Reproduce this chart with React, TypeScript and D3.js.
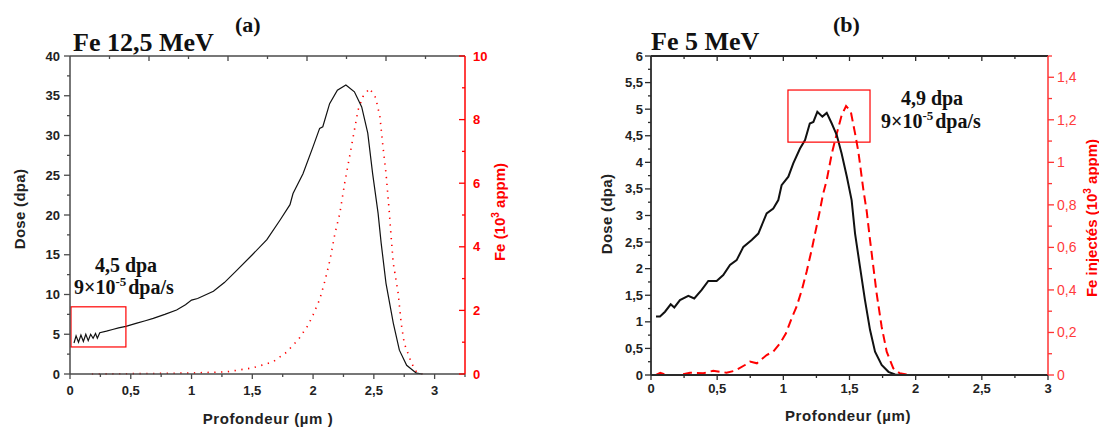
import React from "react";
import * as d3 from "d3";

// ---------- DATA ----------
// Panel (a) Fe 12,5 MeV : dose (dpa) vs depth (µm)
const doseA: [number, number][] = [
  [0.033, 3.9], [0.05, 4.8], [0.07, 4.0], [0.09, 4.9], [0.11, 4.1], [0.13, 5.0], [0.15, 4.2],
  [0.17, 5.0], [0.19, 4.5], [0.21, 5.1], [0.225, 4.5], [0.245, 5.2], [0.3, 5.4], [0.35, 5.6],
  [0.4, 5.8], [0.46, 6.0], [0.55, 6.4], [0.62, 6.7], [0.685, 7.0], [0.78, 7.5], [0.877, 8.05],
  [0.95, 8.7], [1.0, 9.3], [1.05, 9.5], [1.18, 10.4], [1.27, 11.5], [1.37, 13.0], [1.5, 15.0],
  [1.62, 16.9], [1.73, 19.4], [1.81, 21.3], [1.835, 22.7], [1.917, 25.2], [2.0, 28.6],
  [2.054, 30.9], [2.08, 31.1], [2.136, 34.0], [2.2, 35.7], [2.27, 36.35], [2.34, 35.5],
  [2.4, 33.6], [2.45, 30.3], [2.49, 25.2], [2.535, 20.2], [2.56, 16.5], [2.6, 11.4],
  [2.66, 6.4], [2.71, 3.0], [2.77, 1.1], [2.85, 0.1], [2.9, 0],
];
// Panel (a) Fe concentration (10^3 appm)
const feA: [number, number][] = [
  [0.18, 0], [0.5, 0.01], [1.0, 0.03], [1.29, 0.07], [1.5, 0.19], [1.67, 0.38], [1.78, 0.68],
  [1.88, 1.09], [1.96, 1.54], [2.0, 1.86], [2.055, 2.35], [2.1, 2.96], [2.14, 3.6], [2.18, 4.42],
  [2.22, 5.05], [2.26, 6.0], [2.3, 6.83], [2.33, 7.46], [2.37, 8.3], [2.41, 8.72], [2.465, 8.98],
  [2.515, 8.69], [2.55, 8.09], [2.575, 7.15], [2.6, 6.31], [2.625, 5.2], [2.64, 4.42],
  [2.66, 3.48], [2.7, 2.54], [2.725, 1.59], [2.75, 0.97], [2.81, 0.34], [2.85, 0.07], [2.9, 0],
];
// Panel (b) Fe 5 MeV : dose (dpa)
const doseB: [number, number][] = [
  [0.038, 1.1], [0.068, 1.1], [0.106, 1.19], [0.149, 1.33], [0.176, 1.27], [0.219, 1.41],
  [0.282, 1.49], [0.327, 1.44], [0.383, 1.6], [0.433, 1.77], [0.496, 1.77], [0.546, 1.88],
  [0.597, 2.07], [0.647, 2.16], [0.698, 2.41], [0.761, 2.54], [0.811, 2.66], [0.874, 3.04],
  [0.924, 3.13], [0.962, 3.29], [0.987, 3.57], [1.038, 3.73], [1.075, 3.98], [1.126, 4.26],
  [1.164, 4.42], [1.2, 4.73], [1.227, 4.76], [1.257, 4.95], [1.295, 4.86], [1.328, 4.93],
  [1.366, 4.73], [1.404, 4.51], [1.44, 4.17], [1.48, 3.73], [1.516, 3.29], [1.542, 2.66],
  [1.579, 2.04], [1.617, 1.41], [1.655, 0.85], [1.693, 0.44], [1.743, 0.19], [1.794, 0.06],
  [1.844, 0.01], [1.9, 0], [3.0, 0],
];
// Panel (b) Fe injectés (10^3 appm)
const feB: [number, number][] = [
  [0.038, 0], [0.07, 0.01], [0.12, 0], [0.22, 0], [0.295, 0.011], [0.395, 0.008], [0.47, 0.02],
  [0.57, 0.011], [0.635, 0.02], [0.71, 0.047], [0.748, 0.063], [0.8, 0.055], [0.874, 0.094],
  [0.924, 0.11], [0.975, 0.149], [1.02, 0.196], [1.063, 0.267], [1.1, 0.321], [1.14, 0.4],
  [1.176, 0.486], [1.214, 0.588], [1.24, 0.666], [1.272, 0.76], [1.3, 0.85], [1.328, 0.917],
  [1.366, 1.04], [1.404, 1.136], [1.44, 1.22], [1.474, 1.265], [1.51, 1.238], [1.542, 1.136],
  [1.567, 1.05], [1.605, 0.87], [1.63, 0.77], [1.655, 0.635], [1.68, 0.51], [1.705, 0.384],
  [1.743, 0.227], [1.781, 0.11], [1.831, 0.031], [1.88, 0.008], [1.95, 0], [3.0, 0],
];
// Highlight boxes [x0, x1, y0, y1] in data units (left axis)
const boxA = [0.0, 0.46, 3.4, 8.45];
const boxB = [1.035, 1.655, 4.38, 5.36];

const xTicksA = d3.range(0, 3.01, 0.5);
const xTicksB = d3.range(0, 3.01, 0.5);
const yTicksA = d3.range(0, 40.1, 5);
const yTicksB = d3.range(0, 6.01, 0.5);
const y2TicksA = d3.range(0, 10.1, 2);
const y2TicksB = d3.range(0, 1.41, 0.2);

const fmt = (v: number) => String(+v.toFixed(2)).replace(".", ",");

const SANS = "'Liberation Sans', Arial, sans-serif";
const SERIF = "'Liberation Serif', 'Times New Roman', serif";
const RED = "#ff0000";

export default function App() {
  const xA = d3.scaleLinear().domain([0, 3.25]).range([70, 465]);
  const yA = d3.scaleLinear().domain([0, 40]).range([374, 56]);
  const y2A = d3.scaleLinear().domain([0, 10]).range([374, 56]);
  const xB = d3.scaleLinear().domain([0, 3]).range([651, 1048]);
  const yB = d3.scaleLinear().domain([0, 6]).range([375, 56]);
  const y2B = d3.scaleLinear().domain([0, 1.5]).range([375, 56]);

  const line = (xs: any, ys: any) =>
    d3.line<[number, number]>().x((d) => xs(d[0])).y((d) => ys(d[1]));

  const axisCol = "#4a4a4a";
  const axisColB = "#2a2a2a";

  const aL = 70, aR = 465, aT = 56, aB = 374;
  const bL = 651, bR = 1048, bT = 56, bB = 375;

  const topA = d3.range(0, 10, 1).map((i) => ({ x: aL + ((aR - aL) * i) / 10, major: i % 2 === 0 }));
  const topB = d3.range(0, 3, 0.25).map((v) => ({ x: xB(v), major: Math.abs(v * 2 - Math.round(v * 2)) < 1e-6 }));

  return (
    <svg
      width={1099}
      height={428}
      style={{ position: "absolute", left: 0, top: 0, background: "#fff" }}
      fontFamily={SANS}
    >
      {/* ================= PANEL A ================= */}
      <g>
        <path d={line(xA, y2A)(feA) || ""} fill="none" stroke={RED} strokeWidth={1.6}
          strokeDasharray="1.3 5.5" />
        <path d={line(xA, yA)(doseA) || ""} fill="none" stroke="#111" strokeWidth={1.2} />
        <rect x={xA(boxA[0]) + 1} y={yA(boxA[3])} width={xA(boxA[1]) - xA(boxA[0]) - 1}
          height={yA(boxA[2]) - yA(boxA[3])} fill="none" stroke={RED} strokeWidth={1.2} />
        <line x1={aL} x2={aR} y1={aT} y2={aT} stroke={axisCol} strokeWidth={1.5} />
        <line x1={aL} x2={aR} y1={aB} y2={aB} stroke={axisCol} strokeWidth={1.5} />
        <line x1={aL} x2={aL} y1={aT} y2={aB} stroke={axisCol} strokeWidth={1.5} />
        <line x1={aR} x2={aR} y1={aT} y2={aB} stroke={RED} strokeWidth={1.5} />
        {topA.map((t, i) => i > 0 && (
          <line key={"ta" + i} x1={t.x} x2={t.x} y1={aT} y2={aT + (t.major ? 5 : 3)} stroke={axisCol} strokeWidth={1.3} />
        ))}
        {d3.range(0, 3.26, 0.25).map((v, i) => (
          <line key={"ba" + i} x1={xA(v)} x2={xA(v)} y1={aB} y2={aB + (i % 2 === 0 ? 5 : 3)} stroke={axisCol} strokeWidth={1.3} />
        ))}
        {xTicksA.map((v) => (
          <text key={"bl" + v} x={xA(v)} y={395} textAnchor="middle" fontSize={13} fontWeight="bold" fill="#222">{fmt(v)}</text>
        ))}
        {d3.range(0, 40.1, 2.5).map((v, i) => (
          <line key={"la" + i} x1={aL} x2={aL - (i % 2 === 0 ? 6 : 3)} y1={yA(v)} y2={yA(v)} stroke={axisCol} strokeWidth={1.3} />
        ))}
        {yTicksA.map((v) => (
          <text key={"ll" + v} x={60} y={yA(v) + 4.5} textAnchor="end" fontSize={13} fontWeight="bold" fill="#222">{fmt(v)}</text>
        ))}
        {d3.range(0, 10.1, 1).map((v, i) => (
          <line key={"ra" + i} x1={aR} x2={aR - (i % 2 === 0 ? 6 : 3)} y1={y2A(v)} y2={y2A(v)} stroke={RED} strokeWidth={1.3} />
        ))}
        {y2TicksA.map((v) => (
          <text key={"rl" + v} x={473} y={y2A(v) + 4.5} textAnchor="start" fontSize={13} fontWeight="bold" fill={RED}>{fmt(v)}</text>
        ))}
        <text x={268} y={424} textAnchor="middle" fontSize={15} fontWeight="bold" fill="#222" letterSpacing={0.6}>Profondeur (µm )</text>
        <text transform="translate(25,209) rotate(-90)" textAnchor="middle" fontSize={15} fontWeight="bold" fill="#222" letterSpacing={0.3}>Dose (dpa)</text>
        <text transform="translate(505,212) rotate(-90)" textAnchor="middle" fontSize={15} fontWeight="bold" fill={RED}>
          Fe (10<tspan fontSize={10} dy={-6}>3</tspan><tspan dy={6}> appm)</tspan>
        </text>
        <text x={73} y={51} fontFamily={SERIF} fontSize={26} fontWeight="bold" fill="#111">Fe 12,5 MeV</text>
        <text x={235} y={32} fontFamily={SERIF} fontSize={22} fontWeight="bold" fill="#111">(a)</text>
        <text x={126} y={272} textAnchor="middle" fontFamily={SERIF} fontSize={20} fontWeight="bold" fill="#111">4,5 dpa</text>
        <text x={74} y={294} fontFamily={SERIF} fontSize={20} fontWeight="bold" fill="#111">
          9×10<tspan fontSize={13} dy={-8}>-5</tspan><tspan dy={8} dx={2}>dpa/s</tspan>
        </text>
      </g>

      {/* ================= PANEL B ================= */}
      <g>
        <path d={line(xB, y2B)(feB) || ""} fill="none" stroke={RED} strokeWidth={2}
          strokeDasharray="9 5" />
        <path d={line(xB, yB)(doseB) || ""} fill="none" stroke="#111" strokeWidth={2} />
        <rect x={xB(boxB[0])} y={yB(boxB[3])} width={xB(boxB[1]) - xB(boxB[0])}
          height={yB(boxB[2]) - yB(boxB[3])} fill="none" stroke={RED} strokeWidth={1.2} />
        <line x1={bL} x2={bR} y1={bT} y2={bT} stroke={axisColB} strokeWidth={1.8} />
        <line x1={bL} x2={bR} y1={bB} y2={bB} stroke={axisColB} strokeWidth={1.8} />
        <line x1={bL} x2={bL} y1={bT} y2={bB} stroke={axisColB} strokeWidth={1.8} />
        <line x1={bR} x2={bR} y1={bT} y2={bB} stroke="#ff3333" strokeWidth={1.5} />
        {topB.map((t, i) => i > 0 && (
          <line key={"tb" + i} x1={t.x} x2={t.x} y1={bT} y2={bT + (t.major ? 5 : 3)} stroke={axisColB} strokeWidth={1.3} />
        ))}
        {d3.range(0, 3.01, 0.25).map((v, i) => (
          <line key={"bb" + i} x1={xB(v)} x2={xB(v)} y1={bB} y2={bB + (i % 2 === 0 ? 5 : 3)} stroke={axisColB} strokeWidth={1.3} />
        ))}
        {xTicksB.map((v) => (
          <text key={"blb" + v} x={xB(v)} y={393} textAnchor="middle" fontSize={13} fontWeight="bold" fill="#222">{fmt(v)}</text>
        ))}
        {d3.range(0, 6.01, 0.25).map((v, i) => (
          <line key={"lb" + i} x1={bL} x2={bL - (i % 2 === 0 ? 6 : 3)} y1={yB(v)} y2={yB(v)} stroke={axisColB} strokeWidth={1.3} />
        ))}
        {yTicksB.map((v) => (
          <text key={"llb" + v} x={643} y={yB(v) + 4.5} textAnchor="end" fontSize={13} fontWeight="bold" fill="#222">{fmt(v)}</text>
        ))}
        {d3.range(0, 1.51, 0.1).map((v, i) => (
          <line key={"rb" + i} x1={bR} x2={bR + (i % 2 === 0 ? 6 : 4)} y1={y2B(v)} y2={y2B(v)} stroke="#ff3333" strokeWidth={1.3} />
        ))}
        {y2TicksB.map((v) => (
          <text key={"rlb" + v} x={1057} y={y2B(v) + 5} textAnchor="start" fontSize={14} fill="#ff3b3b">{fmt(v)}</text>
        ))}
        <text x={848} y={421} textAnchor="middle" fontSize={15} fontWeight="bold" fill="#222" letterSpacing={0.6}>Profondeur (µm)</text>
        <text transform="translate(612,214) rotate(-90)" textAnchor="middle" fontSize={15} fontWeight="bold" fill="#222" letterSpacing={0.3}>Dose (dpa)</text>
        <text transform="translate(1097,218) rotate(-90)" textAnchor="middle" fontSize={15} fontWeight="bold" fill={RED}>
          Fe injectés (10<tspan fontSize={10} dy={-6}>3</tspan><tspan dy={6}> appm)</tspan>
        </text>
        <text x={651} y={50} fontFamily={SERIF} fontSize={26} fontWeight="bold" fill="#111">Fe 5 MeV</text>
        <text x={833} y={32} fontFamily={SERIF} fontSize={22} fontWeight="bold" fill="#111">(b)</text>
        <text x={932} y={105} textAnchor="middle" fontFamily={SERIF} fontSize={20} fontWeight="bold" fill="#111">4,9 dpa</text>
        <text x={881} y={128} fontFamily={SERIF} fontSize={20} fontWeight="bold" fill="#111">
          9×10<tspan fontSize={13} dy={-8}>-5</tspan><tspan dy={8} dx={2}>dpa/s</tspan>
        </text>
      </g>
    </svg>
  );
}
